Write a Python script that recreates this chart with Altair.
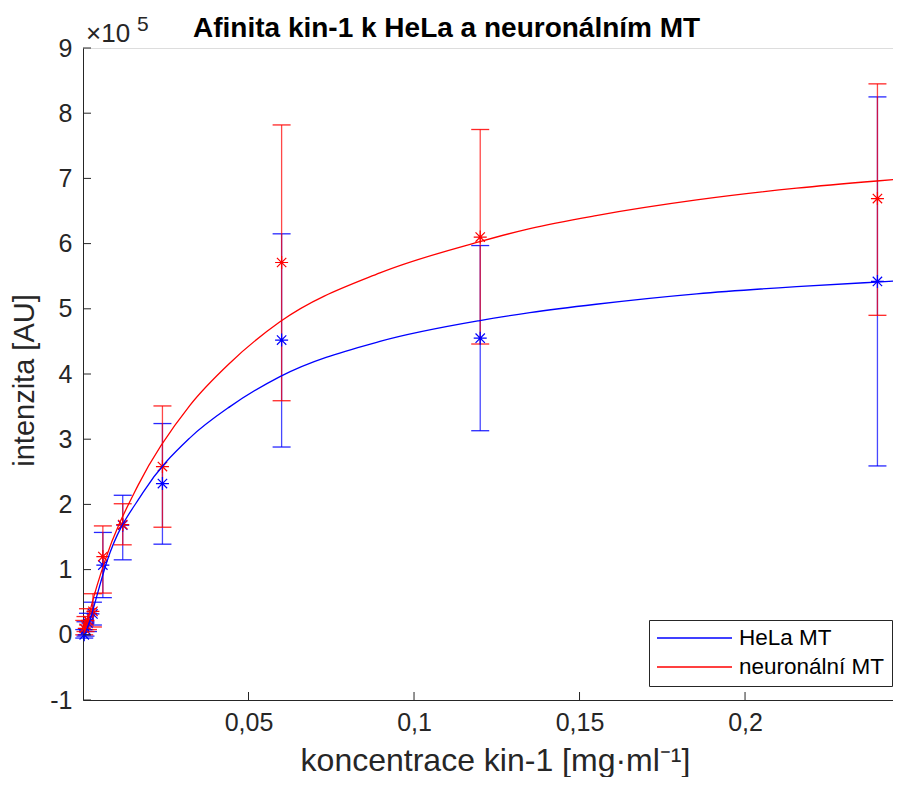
import altair as alt
import pandas as pd

# ---------------- data (intensity in units of 1e5 AU) ----------------
series_names = ["HeLa MT", "neuronální MT"]
series_colors = ["#0000ff", "#ff0000"]

conc = [0.000375, 0.00075, 0.0015, 0.003, 0.006, 0.012, 0.024, 0.06, 0.12, 0.24]

hela_mean = [0.00, 0.08, 0.18, 0.32, 1.07, 1.68, 2.32, 4.52, 4.55, 5.42]
hela_lo = [-0.05, -0.02, 0.05, 0.15, 0.57, 1.15, 1.39, 2.88, 3.13, 2.59]
hela_hi = [0.08, 0.20, 0.33, 0.50, 1.57, 2.14, 3.24, 6.15, 5.97, 8.25]

neuro_mean = [0.10, 0.15, 0.22, 0.36, 1.20, 1.69, 2.58, 5.71, 6.10, 6.69]
neuro_lo = [0.00, 0.05, 0.08, 0.12, 0.64, 1.38, 1.65, 3.59, 4.46, 4.90]
neuro_hi = [0.22, 0.28, 0.40, 0.63, 1.67, 2.01, 3.51, 7.82, 7.75, 8.45]

# fitted curves
hela_fit_x = [0.0004, 0.0021, 0.0036, 0.0072, 0.0181, 0.0323, 0.0444, 0.0595,
              0.0897, 0.1199, 0.1350, 0.1550, 0.1854, 0.2156, 0.2398, 0.2471]
hela_fit_y = [0.00, 0.22, 0.49, 1.12, 2.18, 3.02, 3.50, 3.96,
              4.50, 4.82, 4.94, 5.07, 5.23, 5.34, 5.41, 5.43]
neuro_fit_x = [0.0004, 0.0011, 0.0026, 0.0066, 0.0167, 0.0323, 0.0444, 0.0595,
               0.0897, 0.1199, 0.1350, 0.1550, 0.1854, 0.2156, 0.2398, 0.2471]
neuro_fit_y = [0.03, 0.15, 0.46, 1.13, 2.30, 3.52, 4.17, 4.80,
               5.55, 6.03, 6.23, 6.43, 6.67, 6.85, 6.96, 6.99]

x_ticks = [0.05, 0.1, 0.15, 0.2]
y_ticks = [-1, 0, 1, 2, 3, 4, 5, 6, 7, 8, 9]

title_text = "Afinita kin-1 k HeLa a neuronálním MT"
x_title = "koncentrace kin-1 [mg·ml⁻¹]"
y_title = "intenzita [AU]"
exp_base = "×10"
exp_power = "5"

# ---------------- tables ----------------
pts = pd.DataFrame({
    "series": [series_names[0]] * len(conc) + [series_names[1]] * len(conc),
    "x": conc + conc,
    "mean": hela_mean + neuro_mean,
    "lo": hela_lo + neuro_lo,
    "hi": hela_hi + neuro_hi,
})
fit = pd.DataFrame({
    "series": [series_names[0]] * len(hela_fit_x) + [series_names[1]] * len(neuro_fit_x),
    "x": hela_fit_x + neuro_fit_x,
    "y": hela_fit_y + neuro_fit_y,
    "order": list(range(len(hela_fit_x))) + list(range(len(neuro_fit_x))),
})

# ---------------- layout ----------------
W, H = 810, 652
FONT = "Liberation Sans"
AX = "#262626"
TICK_LEN = 8

xscale = alt.Scale(domain=[0, 0.2447], nice=False, zero=False)
yscale = alt.Scale(domain=[-1, 9], nice=False, zero=False)

x_axis = alt.Axis(
    values=x_ticks, labelExpr="replace(format(datum.value, '~g'), '.', ',')",
    ticks=False, grid=False, domainColor=AX, domainWidth=1,
    labelFont=FONT, labelFontSize=25, labelColor=AX, labelPadding=10,
    title=x_title, titleFont=FONT, titleFontSize=32, titleFontWeight="normal",
    titleColor=AX, titleX=412, titleY=70, titleBaseline="alphabetic", titleAlign="center",
)
y_axis = alt.Axis(
    values=y_ticks, labelExpr="'' + datum.value",
    ticks=False, grid=False, domainColor=AX, domainWidth=1,
    labelFont=FONT, labelFontSize=25, labelColor=AX, labelPadding=11,
    title=y_title, titleFont=FONT, titleFontSize=29, titleFontWeight="normal",
    titleColor=AX, titleX=-50, titleY=332, titleAngle=270,
    titleBaseline="alphabetic", titleAlign="center",
)


def X(field):
    return alt.X(field, type="quantitative", scale=xscale, axis=x_axis)


def Y(field):
    return alt.Y(field, type="quantitative", scale=yscale, axis=y_axis)


ASTERISK = "M-1,0L1,0M0,-1L0,1M-0.72,-0.72L0.72,0.72M-0.72,0.72L0.72,-0.72"

layers = []
base = alt.Chart(pts)
for name, col in zip(series_names, series_colors):
    sub = base.transform_filter(alt.datum.series == name)
    layers.append(sub.mark_rule(color=col, strokeWidth=1.3, opacity=0.72).encode(
        x=X("x"), y=Y("lo"), y2="hi"))
    layers.append(sub.mark_tick(color=col, orient="horizontal", size=18, thickness=1.3,
                                opacity=0.85).encode(x=X("x"), y=Y("lo")))
    layers.append(sub.mark_tick(color=col, orient="horizontal", size=18, thickness=1.3,
                                opacity=0.85).encode(x=X("x"), y=Y("hi")))
for name, col in zip(series_names, series_colors):
    sub = base.transform_filter(alt.datum.series == name)
    layers.append(sub.mark_point(shape=ASTERISK, filled=False, size=169, strokeWidth=1.2,
                                 color=col, opacity=1).encode(x=X("x"), y=Y("mean")))

lines = alt.Chart(fit).mark_line(strokeWidth=1.3, interpolate="monotone", clip=True).encode(
    x=X("x"), y=Y("y"), order="order:Q",
    color=alt.Color("series:N", scale=alt.Scale(domain=series_names, range=series_colors),
                    legend=alt.Legend(
                        title=None, orient="none", legendX=566, legendY=572,
                        symbolType="stroke", symbolSize=5625, symbolStrokeWidth=1.3,
                        clipHeight=22, labelFont=FONT, labelFontSize=22.5, labelColor="#000000",
                        labelOffset=6, rowPadding=6, padding=7, strokeColor=AX,
                        fillColor="#ffffff", cornerRadius=0)),
)
layers.append(lines)

# inside ticks
ytick_df = pd.DataFrame({"v": y_ticks})
xtick_df = pd.DataFrame({"v": x_ticks})
layers.append(alt.Chart(ytick_df).mark_rule(color=AX, strokeWidth=1).encode(
    y=Y("v"), x=alt.value(0), x2=alt.value(TICK_LEN)))
layers.append(alt.Chart(xtick_df).mark_rule(color=AX, strokeWidth=1).encode(
    x=X("v"), y=alt.value(H), y2=alt.value(H - TICK_LEN)))

# title and exponent text
layers.append(alt.Chart(pd.DataFrame({"t": [title_text]})).mark_text(
    font=FONT, fontSize=28, fontWeight="bold", color="#000000", align="left",
    baseline="alphabetic").encode(text="t:N", x=alt.value(110), y=alt.value(-11)))
layers.append(alt.Chart(pd.DataFrame({"t": [exp_base]})).mark_text(
    font=FONT, fontSize=26, color=AX, align="left", baseline="alphabetic").encode(
    text="t:N", x=alt.value(3), y=alt.value(-6)))
layers.append(alt.Chart(pd.DataFrame({"t": [exp_power]})).mark_text(
    font=FONT, fontSize=21, color=AX, align="left", baseline="alphabetic").encode(
    text="t:N", x=alt.value(54), y=alt.value(-17)))

chart = alt.layer(*layers).properties(
    width=W, height=H,
    autosize=alt.AutoSizeParams(type="none"),
    padding={"left": 75, "top": 40, "right": 0, "bottom": 77},
).configure_view(stroke=None).configure(background="#ffffff")

chart.save("out.html", embed_options={"renderer": "svg", "actions": False})
